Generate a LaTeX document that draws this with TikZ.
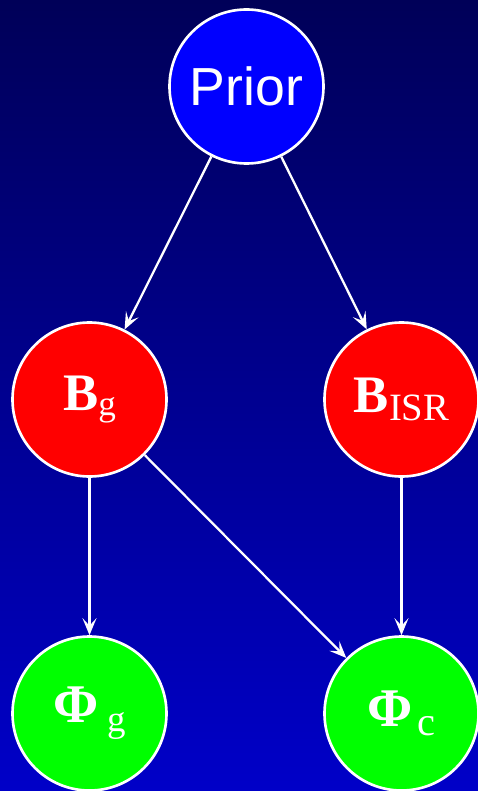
\documentclass[tikz,border=0pt]{standalone}
\usepackage{fontspec}
\setmainfont{Liberation Serif}
\newfontfamily\labelsans{Liberation Sans}
\usetikzlibrary{arrows.meta,positioning}
\definecolor{skytop}{RGB}{0,0,88}
\definecolor{skybottom}{RGB}{0,0,200}
\definecolor{priorblue}{RGB}{0,0,255}
\definecolor{bred}{RGB}{255,0,0}
\definecolor{phigreen}{RGB}{0,255,0}
\tikzset{
  >={Stealth[length=3.4mm,width=2.8mm,inset=1.5mm]},
  vnode/.style={circle,draw=white,line width=1.5pt,fill=#1,minimum size=30.8mm,
    inner sep=0pt,text=white,align=center},
  vnode/.default=priorblue,
  flow/.style={->,line width=1.3pt,draw=white},
}

\begin{document}
\begin{tikzpicture}
  \useasboundingbox (0,0) rectangle (9.56,-15.82);
  \shade[top color=skytop,bottom color=skybottom] (0,0) rectangle (9.56,-15.82);
  % nodes
  \node[vnode=priorblue] (prior) at (4.93,-1.73) {\labelsans\fontsize{30.5}{32}\selectfont Prior};
  \node[vnode=bred] (bg) at (1.79,-7.99) {\fontsize{30}{32}\selectfont\textbf{B}\raisebox{-3pt}{\fontsize{20}{22}\selectfont g}};
  \node[vnode=bred] (bisr) at (8.03,-7.99) {\fontsize{30}{32}\selectfont\textbf{B}\raisebox{-5pt}{\fontsize{22}{24}\selectfont ISR}};
  \node[vnode=phigreen] (phig) at (1.79,-14.27) {\fontsize{31}{32}\selectfont\textbf{Φ}\hspace{5pt}\raisebox{-5pt}{\fontsize{21}{22}\selectfont g}};
  \node[vnode=phigreen] (phic) at (8.03,-14.27) {\fontsize{31}{32}\selectfont\textbf{Φ}\hspace{3pt}\raisebox{-5pt}{\fontsize{23}{24}\selectfont c}};
  % arrows
  \draw[flow] (prior) -- (bg);
  \draw[flow] (prior) -- (bisr);
  \draw[flow] (bg) -- (phig);
  \draw[flow] (bg) -- (phic);
  \draw[flow] (bisr) -- (phic);
\end{tikzpicture}
\end{document}
